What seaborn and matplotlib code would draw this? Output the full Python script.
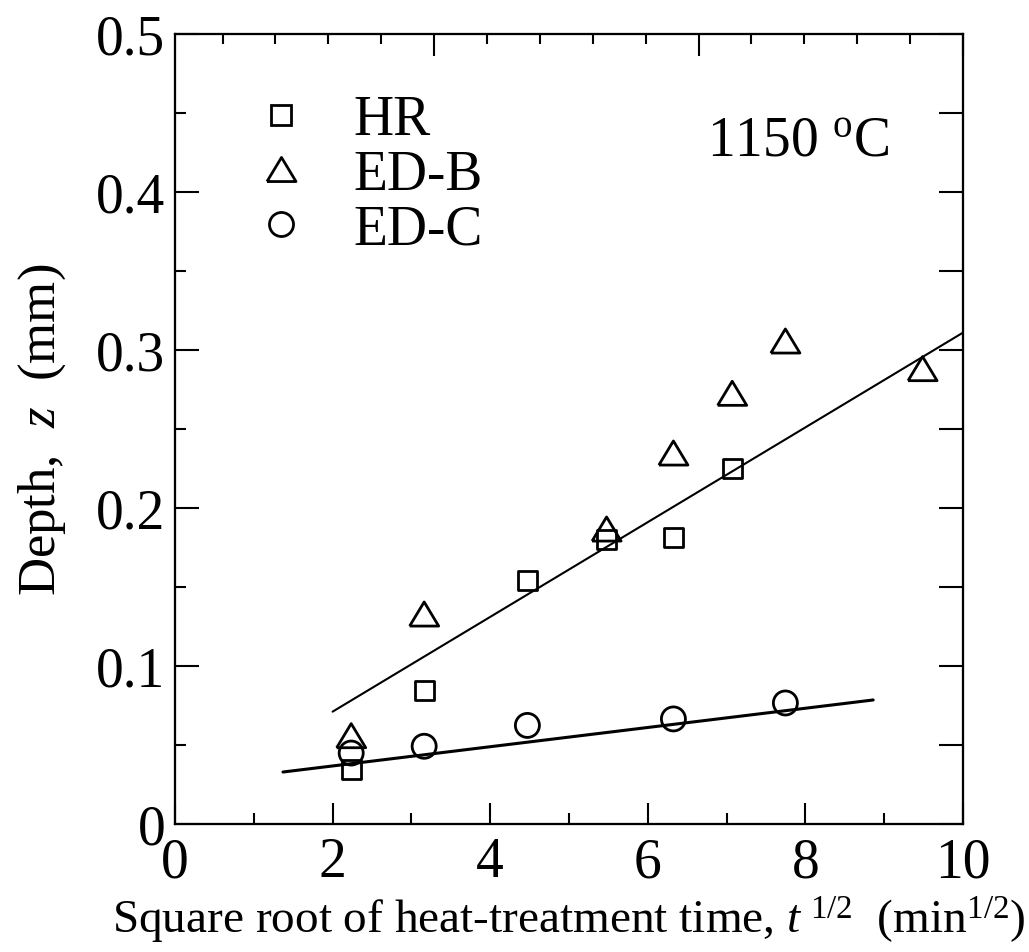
import matplotlib
matplotlib.use("Agg")
import matplotlib.pyplot as plt
import seaborn as sns
from matplotlib.ticker import MultipleLocator
from matplotlib.lines import Line2D

# ---------------- data ----------------
hr_x = [2.236, 3.162, 4.472, 5.477, 6.325, 7.071]
hr_z = [0.0345, 0.0842, 0.154, 0.180, 0.1816, 0.2251]
edb_x = [2.236, 3.162, 5.477, 6.325, 7.071, 7.746, 9.487]
edb_z = [0.0559, 0.1329, 0.1867, 0.2348, 0.2726, 0.3057, 0.2882]
edc_x = [2.236, 3.162, 4.472, 6.325, 7.746]
edc_z = [0.0449, 0.0492, 0.0624, 0.0665, 0.0766]
fit1_x = [2.0, 10.0]
fit1_z = [0.0711, 0.311]
fit2_x = [1.37, 8.86]
fit2_z = [0.0329, 0.0785]
series_labels = ["HR", "ED-B", "ED-C"]
x_ticks = [0, 2, 4, 6, 8, 10]
y_ticks = [0, 0.1, 0.2, 0.3, 0.4, 0.5]
y_ticklabels = ["0", "0.1", "0.2", "0.3", "0.4", "0.5"]
temp_label = "1150 $^{\\mathrm{o}}$C"

# ---------------- style ----------------
sns.set_theme(style="ticks")
plt.rcParams["font.family"] = ["Liberation Serif", "DejaVu Serif"]
plt.rcParams["mathtext.fontset"] = "custom"
plt.rcParams["mathtext.rm"] = "Liberation Serif"
plt.rcParams["mathtext.it"] = "Liberation Serif:italic"
plt.rcParams["axes.linewidth"] = 1.5
for k in ["text.color", "axes.labelcolor", "xtick.color", "ytick.color", "axes.edgecolor"]:
    plt.rcParams[k] = "black"

FS = 40
tri = [(-1, -0.83), (1, -0.83), (0, 0.83), (-1, -0.83)]
marker_specs = {
    "HR": dict(marker="s", ms=13.7),
    "ED-B": dict(marker=tri, ms=20.9),
    "ED-C": dict(marker="o", ms=17.3),
}

fig = plt.figure(figsize=(10.29, 9.53), dpi=100)
ax = fig.add_axes([175 / 1029, 128 / 953, 788 / 1029, 790 / 953])

# fit lines
sns.lineplot(x=fit1_x, y=fit1_z, ax=ax, color="black", lw=1.5, zorder=2)
sns.lineplot(x=fit2_x, y=fit2_z, ax=ax, color="black", lw=2.2, zorder=2)

for lab, xs, zs in zip(series_labels, [hr_x, edb_x, edc_x], [hr_z, edb_z, edc_z]):
    spec = marker_specs[lab]
    sns.scatterplot(x=xs, y=zs, ax=ax, marker=spec["marker"], s=spec["ms"] ** 2,
                    facecolor="none", edgecolor="black", linewidth=2.0, zorder=3)

ax.set_xlim(0, 10)
ax.set_ylim(0, 0.5)
ax.set_xticks(x_ticks)
ax.set_xticklabels([str(v) for v in x_ticks])
ax.set_yticks(y_ticks)
ax.set_yticklabels(y_ticklabels)
ax.xaxis.set_minor_locator(MultipleLocator(1))
ax.yaxis.set_minor_locator(MultipleLocator(0.05))

# top axis ticks (unlabelled)
axt = ax.twiny()
axt.set_xlim(0.1, 15)
axt.xaxis.set_major_locator(MultipleLocator(5))
axt.xaxis.set_minor_locator(MultipleLocator(1))
axt.tick_params(axis="x", which="both", direction="in", top=True, bottom=False,
                labeltop=False, labelbottom=False, width=1.5)
axt.tick_params(axis="x", which="major", length=16)
axt.tick_params(axis="x", which="minor", length=7)

# right axis ticks (unlabelled)
axr = ax.twinx()
axr.set_ylim(0, 0.5)
axr.yaxis.set_major_locator(MultipleLocator(0.05))
axr.tick_params(axis="y", which="both", direction="in", right=True, left=False,
                labelright=False, labelleft=False, width=1.5, length=17)

ax.tick_params(which="both", direction="in", top=False, right=False,
               labelsize=FS, width=1.5, colors="black")
ax.tick_params(axis="x", which="major", length=15, pad=9)
ax.tick_params(axis="x", which="minor", length=8)
ax.tick_params(axis="y", which="major", length=17, pad=7)
ax.tick_params(axis="y", which="minor", length=8)

for a in (ax, axt, axr):
    for sp in a.spines.values():
        sp.set_linewidth(1.5)
        sp.set_color("black")

ax.set_xlabel("Square root of heat-treatment time, $t^{\\ 1/2}$  (min$^{1/2}$)",
              fontsize=34, labelpad=4)
ax.set_ylabel("Depth,  $z$  (mm)", fontsize=38, labelpad=20)

ax.text(0.675, 0.865, temp_label, transform=ax.transAxes, fontsize=FS,
        ha="left", va="center")

handles = [Line2D([], [], linestyle="none", marker=marker_specs[l]["marker"],
                  markersize=marker_specs[l]["ms"], markerfacecolor="none",
                  markeredgecolor="black", markeredgewidth=2.0) for l in series_labels]
ax.legend(handles, series_labels, loc="upper left", bbox_to_anchor=(0.099, 0.924),
          frameon=False, fontsize=FS, handlelength=1.0, handletextpad=0.8,
          labelspacing=0.05, borderpad=0.0, borderaxespad=0.0)

fig.savefig("out.png", dpi=100)
